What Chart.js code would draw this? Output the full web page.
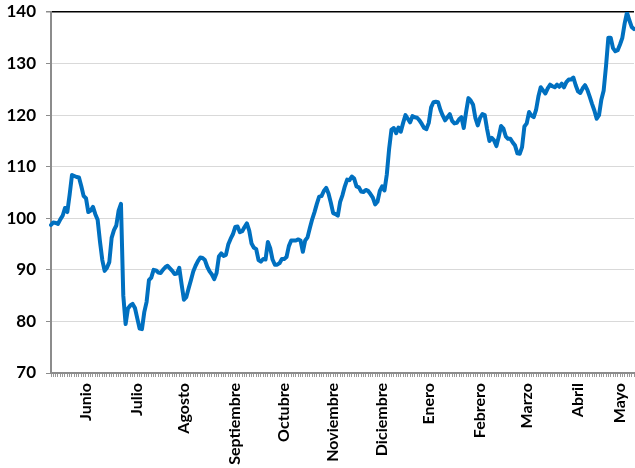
<!DOCTYPE html>
<html>
<head>
<meta charset="utf-8">
<script src="https://cdn.jsdelivr.net/npm/chart.js@4/dist/chart.umd.min.js"></script>
<style>
  html, body { margin: 0; padding: 0; background: #fff; }
  #c { display: block; }
</style>
</head>
<body>
<canvas id="c" width="635" height="468"></canvas>
<script>
// Month labels and the data index where each label sits
const monthLabels = ["Junio", "Julio", "Agosto", "Septiembre", "Octubre", "Noviembre",
                     "Diciembre", "Enero", "Febrero", "Marzo", "Abril", "Mayo"];
const monthIndex = [15, 37, 57, 79, 100, 121, 142, 162, 184, 204, 226, 244];

// Daily series values
const values = [
  98.7, 99.2, 99.1, 98.9, 99.8, 100.5, 102.0, 101.2, 104.6, 108.4,
  108.2, 108.0, 107.9, 106.2, 104.3, 103.9, 101.2, 101.5, 102.2, 100.8,
  99.7, 95.5, 91.9, 89.8, 90.4, 91.5, 96.2, 97.7, 98.6, 101.5,
  102.8, 85.0, 79.5, 82.5, 83.1, 83.4, 82.6, 80.6, 78.6, 78.5,
  81.8, 83.8, 88.0, 88.5, 90.0, 89.9, 89.5, 89.4, 90.0, 90.5,
  90.8, 90.3, 89.8, 89.2, 89.3, 90.4, 87.2, 84.2, 84.7, 86.4,
  88.0, 89.7, 90.8, 91.7, 92.4, 92.3, 91.9, 90.6, 89.7, 89.1,
  88.2, 89.4, 92.6, 93.2, 92.7, 92.9, 94.9, 96.0, 96.9, 98.3,
  98.4, 97.3, 97.5, 98.3, 99.0, 97.6, 95.1, 94.3, 94.0, 91.9,
  91.6, 92.1, 92.0, 95.4, 94.2, 92.0, 91.0, 91.0, 91.3, 92.1,
  92.1, 92.5, 94.6, 95.7, 95.7, 95.7, 95.9, 95.7, 93.5, 95.7,
  96.3, 98.1, 99.8, 101.2, 102.8, 104.2, 104.3, 105.3, 105.9, 104.8,
  103.0, 101.0, 100.8, 100.5, 103.2, 104.5, 106.2, 107.5, 107.4, 108.1,
  107.7, 106.2, 106.0, 105.2, 105.1, 105.5, 105.3, 104.7, 104.0, 102.7,
  103.2, 105.3, 106.2, 105.4, 108.5, 113.5, 117.2, 117.5, 116.5, 117.6,
  116.8, 118.5, 120.0, 119.3, 118.6, 119.8, 119.6, 119.5, 119.0, 118.3,
  117.5, 117.3, 118.5, 121.5, 122.5, 122.6, 122.5, 121.0, 119.9, 119.0,
  119.6, 120.2, 118.9, 118.4, 118.5, 119.2, 119.6, 117.5, 120.6, 123.3,
  122.8, 122.0, 119.4, 118.0, 119.5, 120.2, 120.0, 117.3, 115.0, 115.6,
  115.1, 114.0, 115.8, 117.9, 117.4, 115.9, 115.4, 115.4, 114.7, 114.1,
  112.6, 112.5, 113.8, 117.8, 118.4, 120.6, 119.9, 119.6, 121.0, 123.6,
  125.4, 124.8, 124.2, 125.2, 125.9, 125.6, 125.4, 125.9, 125.5, 126.1,
  125.4, 126.4, 126.9, 126.9, 127.3, 125.8, 124.6, 124.3, 125.2, 125.8,
  124.9, 123.6, 122.2, 120.9, 119.3, 120.0, 123.0, 124.8, 129.5, 135.0,
  135.0, 133.0, 132.4, 132.6, 133.7, 135.0, 137.8, 139.9, 138.4, 137.1,
  136.7
];

// Y axis tick settings
const yMin = 70, yMax = 140, yStep = 10;

const labels = values.map(() => "");
monthIndex.forEach((idx, k) => { labels[idx] = monthLabels[k]; });

const FONT = "Lato";

new Chart(document.getElementById("c"), {
  type: "line",
  data: {
    labels: labels,
    datasets: [{
      data: values,
      borderColor: "#0070C0",
      borderWidth: 4,
      pointRadius: 0,
      pointHoverRadius: 0,
      tension: 0,
      fill: false,
      borderJoinStyle: "round",
      borderCapStyle: "round"
    }]
  },
  options: {
    responsive: false,
    animation: false,
    devicePixelRatio: 1,
    layout: { padding: { top: 12, right: 1, left: 0, bottom: 0 } },
    plugins: {
      legend: { display: false },
      tooltip: { enabled: false }
    },
    scales: {
      x: {
        type: "category",
        offset: false,
        border: { display: true, color: "#8c8c8c", width: 2 },
        grid: {
          display: true,
          drawOnChartArea: false,
          drawTicks: true,
          tickLength: 4,
          tickColor: "#999999",
          tickWidth: 1
        },
        ticks: {
          autoSkip: false,
          maxRotation: 90,
          minRotation: 90,
          padding: 6,
          color: "#000",
          font: { family: FONT, size: 16, weight: "bold" }
        },
        afterFit: (s) => { s.height = 95; s.paddingLeft = 0; s.paddingRight = 0; }
      },
      y: {
        min: yMin,
        max: yMax,
        border: { display: true, color: "#8c8c8c", width: 2 },
        grid: {
          color: (ctx) => (ctx.tick && ctx.tick.value === yMax) ? "#000" : "#d9d9d9",
          lineWidth: (ctx) => (ctx.tick && ctx.tick.value === yMax) ? 1.5 : 1,
          tickLength: 5,
          tickColor: "#8c8c8c"
        },
        ticks: {
          stepSize: yStep,
          padding: 10,
          color: "#000",
          font: { family: FONT, size: 17, weight: "bold" }
        },
        afterFit: (s) => { s.width = 51; s.paddingTop = 0; s.paddingBottom = 0; }
      }
    }
  }
});
</script>
</body>
</html>
